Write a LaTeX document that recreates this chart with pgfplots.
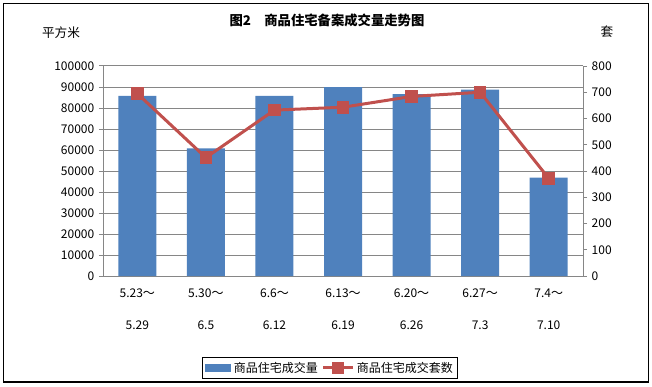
\documentclass[border=0pt]{standalone}
\usepackage{pgfplots}
\pgfplotsset{compat=1.18}
\usepackage{fontspec}
\setmainfont{Noto Sans CJK SC}
\definecolor{barblue}{HTML}{4F81BD}
\definecolor{linered}{HTML}{C0504D}
\definecolor{axgray}{HTML}{868686}
\pgfplotsset{redline legend/.style={legend image code/.code={\draw[##1, mark repeat=2, mark phase=2] plot coordinates {(0pt,0pt) (11pt,0pt) (22pt,0pt)};}}}
\pgfplotstableread{
x area
0 85800
1 60800
2 85800
3 90000
4 86600
5 88700
6 46900
}\areatab
\pgfplotstableread{
x units
0 695
1 451
2 632
3 643
4 684
5 700
6 372
}\unittab
\begin{document}
\begin{tikzpicture}
\useasboundingbox (0pt,0pt) rectangle (489pt,289.5pt);
\draw[black, line width=0.9pt] (2.6pt,3pt) rectangle (486.4pt,286.9pt);
\begin{axis}[
  at={(77.25pt,82.5pt)}, anchor=south west, scale only axis,
  width=360pt, height=157.5pt,
  xmin=-0.5, xmax=6.5, ymin=0, ymax=100000,
  ytick={0,10000,...,100000},
  xtick={0,...,6},
  xticklabels={{5.23～\\[13pt]5.29},{5.30～\\[13pt]6.5},{6.6～\\[13pt]6.12},{6.13～\\[13pt]6.19},{6.20～\\[13pt]6.26},{6.27～\\[13pt]7.3},{7.4～\\[13pt]7.10}},
  axis x line*=bottom, axis y line*=left,
  axis line style={axgray, line width=0.75pt},
  ymajorgrids, grid style={axgray, line width=0.75pt},
  tick style={axgray, line width=0.75pt}, tick align=outside, major tick length=3pt,
  xtick style={draw=none},
  scaled y ticks=false,
  /pgf/number format/assume math mode=true,
  y tick label style={/pgf/number format/fixed, /pgf/number format/1000 sep={}},
  tick label style={font=\fontsize{9}{11}\selectfont},
  xticklabel style={align=center, yshift=-3pt},
  legend style={at={(0.473,-0.438)}, anchor=center, draw=black, line width=0.75pt,
    font=\fontsize{9}{11}\selectfont, legend columns=2, inner sep=1.5pt,
    /tikz/every even column/.append style={column sep=1pt}},
  legend cell align=left,
]
\addplot[ybar, bar width=28.5pt, fill=barblue, draw=none,
  legend image code/.code={\fill[barblue] (0pt,-3pt) rectangle (20pt,3pt);}]
  table[x=x, y=area] {\areatab};
\addlegendentry{商品住宅成交量}
\addlegendimage{linered, line width=2.25pt, mark=square*, mark size=3.6pt, redline legend}
\addlegendentry{商品住宅成交套数}
\end{axis}
\begin{axis}[
  at={(77.25pt,82.5pt)}, anchor=south west, scale only axis,
  width=360pt, height=157.5pt,
  xmin=-0.5, xmax=6.5, ymin=0, ymax=800,
  ytick={0,100,...,800},
  axis x line=none, axis y line*=right,
  axis line style={axgray, line width=0.75pt},
  tick style={axgray, line width=0.75pt}, tick align=outside, major tick length=3pt,
  /pgf/number format/assume math mode=true,
  tick label style={font=\fontsize{9}{11}\selectfont},
]
\addplot[linered, line width=2.25pt, mark=square*, mark size=3.6pt, mark options={solid}]
  table[x=x, y=units] {\unittab};
\end{axis}
\node[font=\fontsize{10}{12}\selectfont\bfseries] at (245.25pt,274.5pt) {图2\quad 商品住宅备案成交量走势图};
\node[font=\fontsize{9.5}{11}\selectfont] at (45.75pt,264.75pt) {平方米};
\node[font=\fontsize{9.5}{11}\selectfont] at (455.25pt,265.5pt) {套};
\end{tikzpicture}
\end{document}
